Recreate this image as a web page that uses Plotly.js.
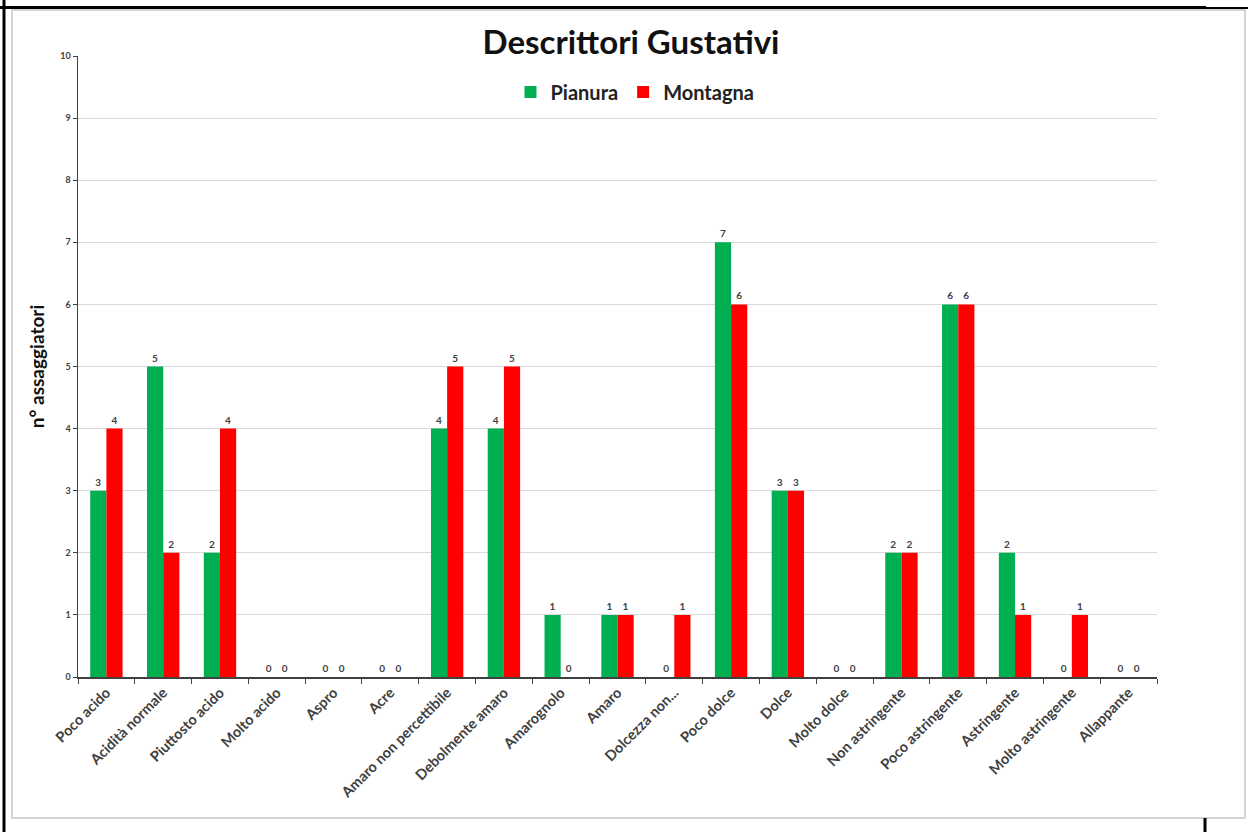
<!DOCTYPE html>
<html><head><meta charset="utf-8">
<script src="https://cdn.plot.ly/plotly-3.0.1.min.js"></script>
<style>html,body{margin:0;padding:0;background:#fff;}#chart{width:1248px;height:832px;}</style>
</head><body><div id="chart"></div>
<script>
const categories = ["Poco acido","Acidità normale","Piuttosto acido","Molto acido","Aspro","Acre","Amaro non percettibile","Debolmente amaro","Amarognolo","Amaro","Dolcezza non...","Poco dolce","Dolce","Molto dolce","Non astringente","Poco astringente","Astringente","Molto astringente","Allappante"];
const pianura = [3,5,2,0,0,0,4,4,1,1,0,7,3,0,2,6,2,0,0];
const montagna = [4,2,4,0,0,0,5,5,0,1,1,6,3,0,2,6,1,1,0];

const L=78,R=1157,T=56,B=677;
const px = x => (x-L)/(R-L);
const py = y => (B-y)/(B-T);
const font = "Lato, 'Open Sans', sans-serif";

const lab = {size:10, color:'#404040', family:font, weight:'bold'};
const traces = [
 {type:'bar', name:'Pianura', x:categories, y:pianura, marker:{color:'#00B050'}, text:pianura.map(String), textposition:'outside', textfont:lab, cliponaxis:false},
 {type:'bar', name:'Montagna', x:categories, y:montagna, marker:{color:'#FF0000'}, text:montagna.map(String), textposition:'outside', textfont:lab, cliponaxis:false}
];
const shapes = [
 {type:'rect', xref:'paper', yref:'paper', x0:px(12), x1:px(1245), y0:py(818), y1:py(10), line:{color:'#c8c8c8', width:1.5}},
 {type:'line', xref:'paper', yref:'paper', x0:px(0), x1:px(1206), y0:py(7.5), y1:py(7.5), line:{color:'#000', width:3}},
 {type:'line', xref:'paper', yref:'paper', x0:px(1206), x1:px(1248), y0:py(8), y1:py(8), line:{color:'#000', width:2}},
 {type:'line', xref:'paper', yref:'paper', x0:px(4), x1:px(4), y0:py(0), y1:py(832), line:{color:'#000', width:3}},
 {type:'line', xref:'paper', yref:'paper', x0:px(1205), x1:px(1205), y0:py(818), y1:py(832), line:{color:'#000', width:3}}
];
const layout = {
 width:1248, height:832,
 margin:{l:L, r:1248-R, t:T, b:832-B},
 paper_bgcolor:'#fff', plot_bgcolor:'#fff',
 title:{text:'<b>Descrittori Gustativi</b>', x:631/1248, xanchor:'center', y:1-42/832, yanchor:'middle', yref:'container', font:{family:font, size:33, color:'#111'}},
 showlegend:true,
 legend:{orientation:'h', x:px(635), xanchor:'center', y:py(92), yanchor:'middle', font:{family:font, size:20, color:'#222', weight:'bold'}, itemwidth:30, traceorder:'normal'},
 bargap:0.43, bargroupgap:0,
 xaxis:{type:'category', tickangle:-45, tickfont:{family:font, size:14.5, color:'#404040', weight:'bold'}, showline:true, linecolor:'#404040', linewidth:1.5, ticks:'outside', ticklen:5, tickcolor:'#404040', tickson:'boundaries', showgrid:false, automargin:false},
 yaxis:{range:[0,10], dtick:1, tickfont:{family:font, size:9, color:'#404040', weight:'bold'}, showline:true, linecolor:'#404040', linewidth:1.5, ticks:'outside', ticklen:4, tickcolor:'#404040', showgrid:true, gridcolor:'#d9d9d9', gridwidth:1, zeroline:false, automargin:false,
   title:{text:'<b>n° assaggiatori</b>', font:{family:font, size:19, color:'#111'}, standoff:10}},
 shapes:shapes
};
Plotly.newPlot('chart', traces, layout, {displayModeBar:false, staticPlot:true});
</script></body></html>
